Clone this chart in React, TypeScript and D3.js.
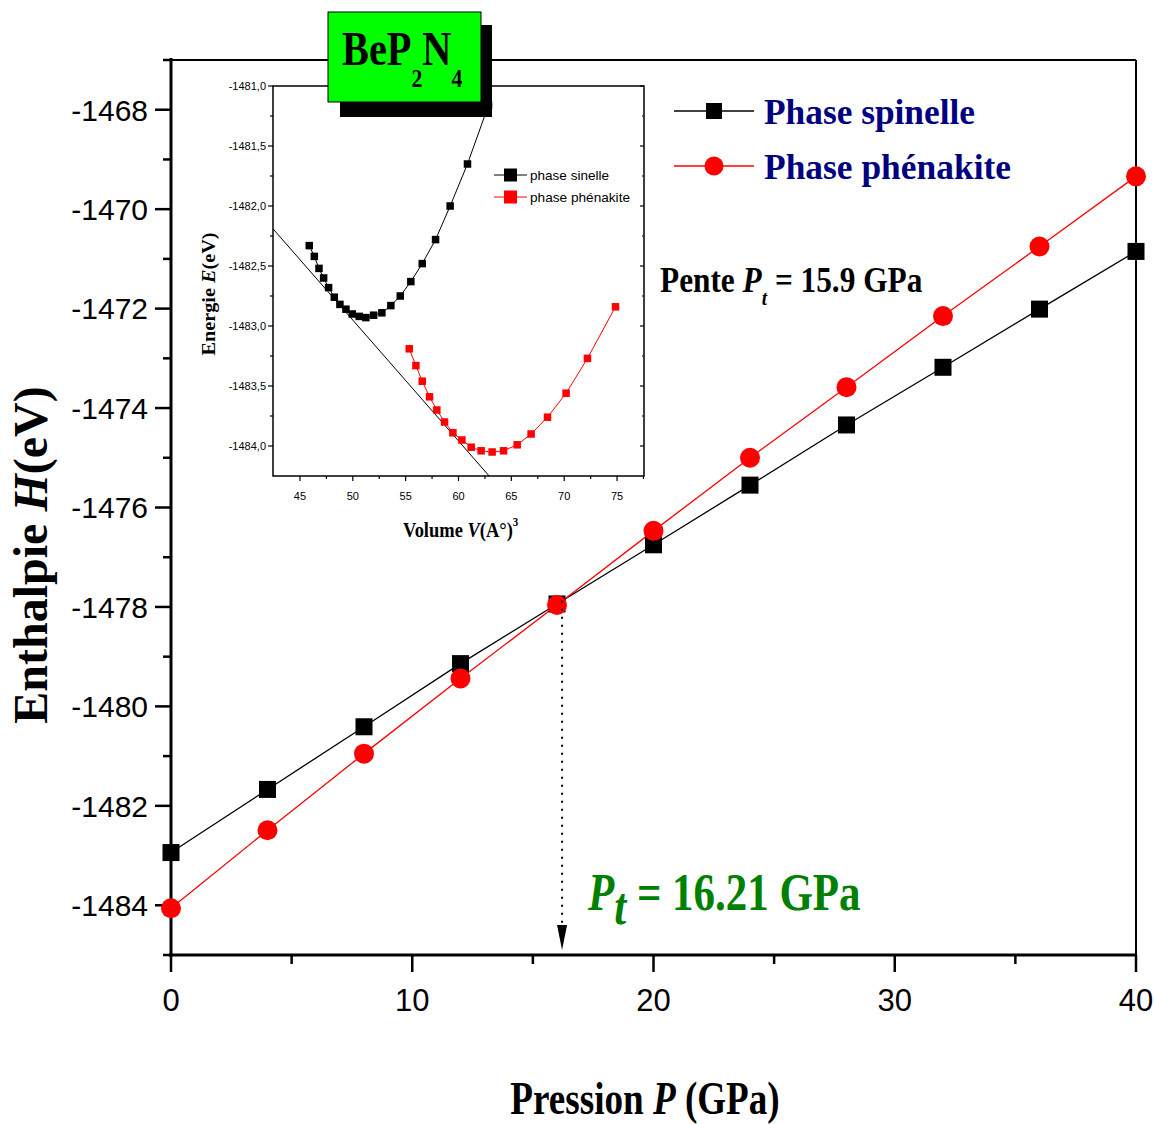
import React from 'react';
import * as d3 from 'd3';

// Enthalpy vs pressure for BeP2N4 (main panel)
const PRESSURE = [0, 4, 8, 12, 16, 20, 24, 28, 32, 36, 40];
const H_SPINELLE = [-1482.94, -1481.67, -1480.41, -1479.14, -1477.94, -1476.75, -1475.55, -1474.34, -1473.18, -1472.01, -1470.85];
const H_PHENAKITE = [-1484.06, -1482.49, -1480.95, -1479.44, -1477.96, -1476.47, -1475.0, -1473.58, -1472.15, -1470.75, -1469.34];
const PT = 16.21;

const X_MAJOR = [0, 10, 20, 30, 40];
const X_MINOR = [5, 15, 25, 35];
const Y_MAJOR = [-1484, -1482, -1480, -1478, -1476, -1474, -1472, -1470, -1468];
const Y_MINOR = [-1485, -1483, -1481, -1479, -1477, -1475, -1473, -1471, -1469, -1467];

// Energy vs volume (inset)
const V_SPINEL = [45.88, 46.36, 46.8, 47.24, 47.71, 48.25, 48.78, 49.35, 49.95, 50.61, 51.24, 51.97, 52.75, 53.6, 54.49, 55.49, 56.57, 57.83, 59.21, 60.85, 62.84];
const E_SPINEL = [-1482.33, -1482.42, -1482.52, -1482.6, -1482.68, -1482.76, -1482.82, -1482.86, -1482.9, -1482.92, -1482.93, -1482.91, -1482.89, -1482.83, -1482.75, -1482.63, -1482.48, -1482.28, -1482.0, -1481.65, -1481.16];
const V_PHEN = [55.34, 55.97, 56.57, 57.26, 57.95, 58.68, 59.47, 60.32, 61.2, 62.14, 63.18, 64.26, 65.55, 66.87, 68.42, 70.18, 72.2, 74.85];
const E_PHEN = [-1483.19, -1483.33, -1483.46, -1483.59, -1483.7, -1483.8, -1483.89, -1483.95, -1484.01, -1484.04, -1484.05, -1484.04, -1483.99, -1483.9, -1483.76, -1483.56, -1483.27, -1482.84];
const TANGENT_V = [42.45, 62.9];
const TANGENT_E = [-1482.19, -1484.25];

const IN_X_MAJOR = [45, 50, 55, 60, 65, 70, 75];
const IN_X_MINOR = [47.5, 52.5, 57.5, 62.5, 67.5, 72.5, 77.5];
const IN_Y_MAJOR = [-1484, -1483.5, -1483, -1482.5, -1482, -1481.5, -1481];
const IN_Y_MINOR = [-1483.75, -1483.25, -1482.75, -1482.25, -1481.75, -1481.25];

const SERIF = "'Liberation Serif', 'Times New Roman', serif";
const SANS = "'Liberation Sans', Arial, sans-serif";

export default function App() {
  const x = d3.scaleLinear().domain([0, 40]).range([171, 1136]);
  const y = d3.scaleLinear().domain([-1485, -1467]).range([955, 60]);

  const xi = d3.scaleLinear().domain([42.45, 77.55]).range([273, 644]);
  const yi = d3.scaleLinear().domain([-1484.25, -1481]).range([476, 86]);

  const mainLine = (vals: number[]) =>
    d3.line<number>().x((_, i) => x(PRESSURE[i])).y((d) => y(d))(vals) || '';
  const insetLine = (vs: number[], es: number[]) =>
    d3.line<number>().x((d) => xi(d)).y((_, i) => yi(es[i]))(vs) || '';

  const hAtPt = d3.scaleLinear().domain(PRESSURE).range(H_SPINELLE)(PT);
  const xPt = x(PT);

  const sq = 17;
  const isq = 7.5;

  return (
    <svg width={1154} height={1124} style={{ position: 'absolute', left: 0, top: 0, background: '#fff' }}>
      <rect x={0} y={0} width={1154} height={1124} fill="#fff" />

      {/* main frame */}
      <line x1={x(0)} x2={x(40)} y1={60} y2={60} stroke="#000" strokeWidth={2} />
      <line x1={x(40)} x2={x(40)} y1={60} y2={955} stroke="#000" strokeWidth={2} />
      <line x1={x(0)} x2={x(0)} y1={58} y2={957} stroke="#000" strokeWidth={3} />
      <line x1={169} x2={1137} y1={955} y2={955} stroke="#000" strokeWidth={3} />

      {/* y axis ticks */}
      {Y_MAJOR.map((v) => (
        <g key={'ym' + v}>
          <line x1={155} x2={171} y1={y(v)} y2={y(v)} stroke="#000" strokeWidth={2.5} />
          <text x={148} y={y(v)} dy="0.36em" textAnchor="end" fontFamily={SANS} fontSize={30}>{String(v)}</text>
        </g>
      ))}
      {Y_MINOR.map((v) => (
        <line key={'yn' + v} x1={163} x2={171} y1={y(v)} y2={y(v)} stroke="#000" strokeWidth={2.5} />
      ))}
      {/* x axis ticks */}
      {X_MAJOR.map((v) => (
        <g key={'xm' + v}>
          <line x1={x(v)} x2={x(v)} y1={955} y2={972} stroke="#000" strokeWidth={2.5} />
          <text x={x(v)} y={1011} textAnchor="middle" fontFamily={SANS} fontSize={31}>{String(v)}</text>
        </g>
      ))}
      {X_MINOR.map((v) => (
        <line key={'xn' + v} x1={x(v)} x2={x(v)} y1={955} y2={964} stroke="#000" strokeWidth={2.5} />
      ))}

      {/* axis titles */}
      <text transform="translate(47,555) rotate(-90)" textAnchor="middle" fontFamily={SERIF} fontWeight="bold" fontSize={48}>
        Enthalpie <tspan fontStyle="italic">H</tspan>(eV)
      </text>
      <g transform="translate(645,1114) scale(0.79,1)">
        <text x={0} y={0} textAnchor="middle" fontFamily={SERIF} fontWeight="bold" fontSize={47}>
          Pression <tspan fontStyle="italic">P</tspan> (GPa)
        </text>
      </g>

      {/* enthalpy curves */}
      <path d={mainLine(H_SPINELLE)} fill="none" stroke="#000" strokeWidth={1.3} />
      <path d={mainLine(H_PHENAKITE)} fill="none" stroke="#ff0000" strokeWidth={1.3} />
      {H_SPINELLE.map((h, i) => (
        <rect key={'s' + i} x={x(PRESSURE[i]) - sq / 2} y={y(h) - sq / 2} width={sq} height={sq} fill="#000" />
      ))}
      {H_PHENAKITE.map((h, i) => (
        <circle key={'p' + i} cx={x(PRESSURE[i])} cy={y(h)} r={10} fill="#ff0000" />
      ))}

      {/* transition marker */}
      <line x1={xPt} x2={xPt} y1={y(hAtPt)} y2={926} stroke="#000" strokeWidth={2} strokeDasharray="2,6" />
      <path d={`M${xPt - 5},925 L${xPt + 5},925 L${xPt},950 Z`} fill="#000" />
      <g transform="translate(588,910) scale(0.81,1)">
        <text x={0} y={0} fontFamily={SERIF} fontWeight="bold" fontSize={53} fill="#008000">
          <tspan fontStyle="italic">P</tspan>
          <tspan fontStyle="italic" dy={14}>t</tspan>
          <tspan dy={-14}> = {PT} GPa</tspan>
        </text>
      </g>

      {/* main legend */}
      <line x1={674} x2={754} y1={111} y2={111} stroke="#000" strokeWidth={1.3} />
      <rect x={714 - 8} y={111 - 8} width={16} height={16} fill="#000" />
      <text x={764} y={124} fontFamily={SERIF} fontWeight="bold" fontSize={36} fill="#000080" textLength={211} lengthAdjust="spacingAndGlyphs">Phase spinelle</text>
      <line x1={674} x2={754} y1={166} y2={166} stroke="#ff0000" strokeWidth={1.3} />
      <circle cx={714} cy={166} r={9.5} fill="#ff0000" />
      <text x={764} y={179} fontFamily={SERIF} fontWeight="bold" fontSize={36} fill="#000080" textLength={247} lengthAdjust="spacingAndGlyphs">Phase phénakite</text>

      <g transform="translate(660,292) scale(0.87,1)">
        <text x={0} y={0} fontFamily={SERIF} fontWeight="bold" fontSize={36} fill="#000">
          Pente <tspan fontStyle="italic">P</tspan>
          <tspan fontStyle="italic" fontSize={22} dy={13}>t</tspan>
          <tspan dy={-13}> = 15.9 GPa</tspan>
        </text>
      </g>

      {/* inset */}
      <rect x={273} y={86} width={371} height={390} fill="#fff" stroke="#000" strokeWidth={1.5} />
      {IN_Y_MAJOR.map((v) => (
        <g key={'iym' + v}>
          <line x1={268} x2={273} y1={yi(v)} y2={yi(v)} stroke="#000" strokeWidth={1.2} />
          <line x1={640} x2={644} y1={yi(v)} y2={yi(v)} stroke="#000" strokeWidth={1.2} />
          <text x={266} y={yi(v)} dy="0.35em" textAnchor="end" fontFamily={SANS} fontSize={11}>{v.toFixed(1).replace('.', ',')}</text>
        </g>
      ))}
      {IN_Y_MINOR.map((v) => (
        <g key={'iyn' + v}>
          <line x1={270} x2={273} y1={yi(v)} y2={yi(v)} stroke="#000" strokeWidth={1.2} />
          <line x1={642} x2={644} y1={yi(v)} y2={yi(v)} stroke="#000" strokeWidth={1.2} />
        </g>
      ))}
      {IN_X_MAJOR.map((v) => (
        <g key={'ixm' + v}>
          <line x1={xi(v)} x2={xi(v)} y1={476} y2={481} stroke="#000" strokeWidth={1.2} />
          <text x={xi(v)} y={500} textAnchor="middle" fontFamily={SANS} fontSize={11}>{String(v)}</text>
        </g>
      ))}
      {IN_X_MINOR.map((v) => (
        <line key={'ixn' + v} x1={xi(v)} x2={xi(v)} y1={476} y2={479} stroke="#000" strokeWidth={1.2} />
      ))}
      <text transform="translate(215,294) rotate(-90)" textAnchor="middle" fontFamily={SERIF} fontWeight="bold" fontSize={18} textLength={123} lengthAdjust="spacingAndGlyphs">
        Energie <tspan fontStyle="italic">E</tspan>(eV)
      </text>
      <g transform="translate(403,537) scale(0.84,1)">
        <text x={0} y={0} fontFamily={SERIF} fontWeight="bold" fontSize={22}>
          Volume <tspan fontStyle="italic">V</tspan>(A°)
          <tspan fontSize={13} dy={-11}>3</tspan>
        </text>
      </g>

      <defs>
        <clipPath id="insetClip">
          <rect x={273} y={86} width={371} height={390} />
        </clipPath>
      </defs>
      <g clipPath="url(#insetClip)">
        <path d={insetLine(TANGENT_V, TANGENT_E)} fill="none" stroke="#000" strokeWidth={1} />
      </g>
      <path d={insetLine(V_SPINEL, E_SPINEL)} fill="none" stroke="#000" strokeWidth={1} />
      <path d={insetLine(V_PHEN, E_PHEN)} fill="none" stroke="#ff0000" strokeWidth={1} />
      {V_SPINEL.map((v, i) => (
        <rect key={'is' + i} x={xi(v) - isq / 2} y={yi(E_SPINEL[i]) - isq / 2} width={isq} height={isq} fill="#000" />
      ))}
      {V_PHEN.map((v, i) => (
        <rect key={'ip' + i} x={xi(v) - isq / 2} y={yi(E_PHEN[i]) - isq / 2} width={isq} height={isq} fill="#ff0000" />
      ))}

      {/* inset legend */}
      <line x1={494} x2={527} y1={175} y2={175} stroke="#000" strokeWidth={1} />
      <rect x={510.5 - 6.5} y={175 - 6.5} width={13} height={13} fill="#000" />
      <text x={530} y={179.5} fontFamily={SANS} fontSize={13.5} textLength={79} lengthAdjust="spacingAndGlyphs">phase sinelle</text>
      <line x1={494} x2={527} y1={197} y2={197} stroke="#ff0000" strokeWidth={1} />
      <rect x={510.5 - 6.5} y={197 - 6.5} width={13} height={13} fill="#ff0000" />
      <text x={530} y={201.5} fontFamily={SANS} fontSize={13.5} textLength={100} lengthAdjust="spacingAndGlyphs">phase phénakite</text>

      {/* compound label */}
      <rect x={340} y={25} width={152} height={92} fill="#000" />
      <rect x={328} y={12} width={153} height={90} fill="#00ff00" stroke="#000" strokeWidth={1} />
      <g transform="translate(342,65) scale(0.84,1)">
        <text x={0} y={0} fontFamily={SERIF} fontWeight="bold" fontSize={48} fill="#000">
          BeP<tspan fontSize={26} dy={22}>2</tspan><tspan dy={-22}>N</tspan><tspan fontSize={26} dy={22}>4</tspan>
        </text>
      </g>
    </svg>
  );
}
